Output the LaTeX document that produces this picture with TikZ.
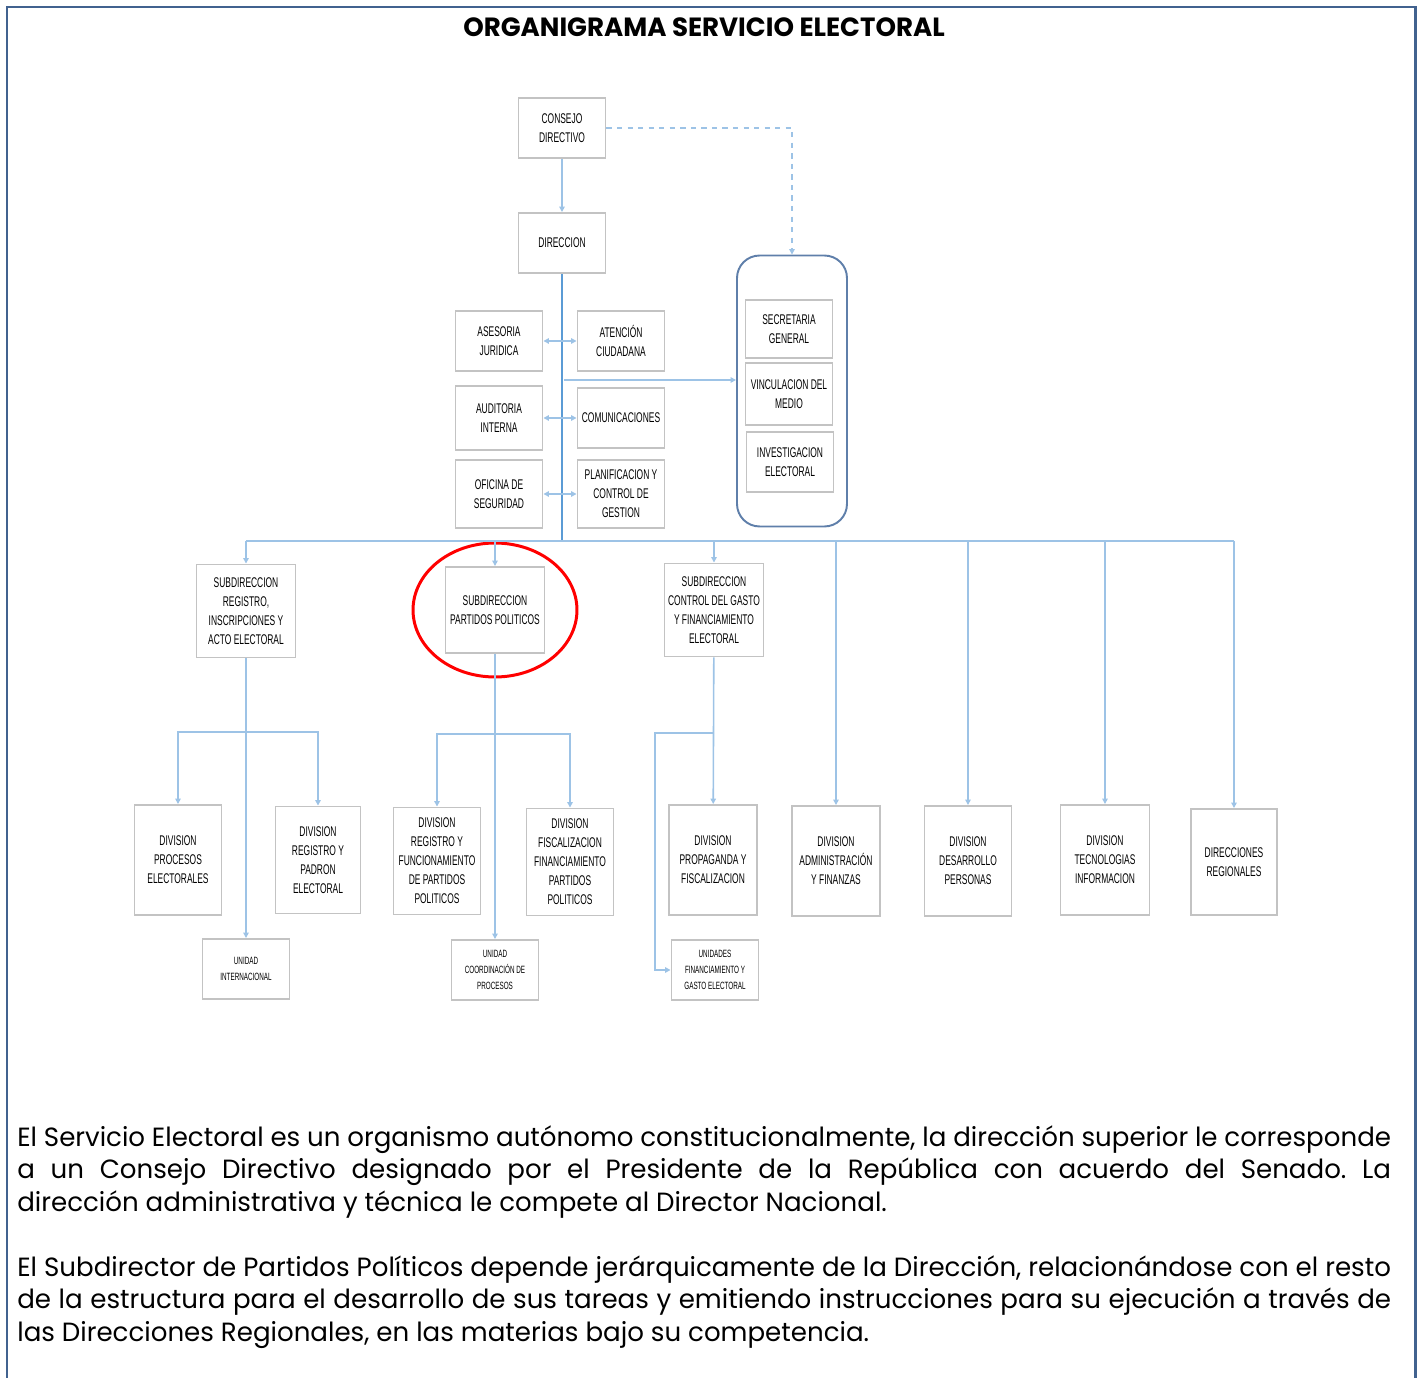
\documentclass[tikz,border=0pt]{standalone}
\usepackage{fontspec}
\setmainfont{Poppins}
\newfontfamily\boxfont[FakeStretch=0.6]{Liberation Sans}
\newfontfamily\bodyfont[FakeStretch=0.99]{Poppins}
\usetikzlibrary{arrows.meta}
\definecolor{framecol}{HTML}{41628F}
\definecolor{boxgray}{HTML}{C3C3C3}
\definecolor{linkblue}{HTML}{9DC3E6}
\definecolor{mainblue}{HTML}{5B9BD5}
\definecolor{grpblue}{HTML}{5F7FAA}
\frenchspacing
\tikzset{
  >={Triangle[length=1.1mm,width=1.1mm]},
  unit/.style={draw=boxgray,line width=1.1pt,fill=white,align=center,inner sep=1pt,
    font=\boxfont\fontsize{8}{10.8}\selectfont,minimum width=1.74cm,minimum height=1.2cm},
  division/.style={unit,minimum height=2.2cm},
  subdir/.style={unit,minimum width=1.98cm,minimum height=1.86cm},
  smallunit/.style={unit,font=\boxfont\fontsize{6}{9}\selectfont},
  link/.style={draw=linkblue,line width=0.9pt},
  mainlink/.style={draw=mainblue,line width=1.6pt},
  body/.style={text width=27.48cm,align=justify,inner sep=0pt,anchor=north west,
    font=\bodyfont\fontsize{15}{18.5}\selectfont}
}
\begin{document}
\begin{tikzpicture}[x=0.02cm,y=-0.02cm]
\useasboundingbox (0,0) rectangle (1421,1378);
\draw[framecol,line width=1.7pt] (7,1378) -- (7,7) -- (1415,7) -- (1415,1378);
\node[font=\bodyfont\bfseries\fontsize{15}{18}\selectfont] (title) at (704,27) {ORGANIGRAMA SERVICIO ELECTORAL};

\node[unit] (con) at (562,128) {CONSEJO\\DIRECTIVO};
\node[unit] (dir) at (562,243) {DIRECCION};

\node[draw=grpblue,line width=1.1pt,rounded corners=0.45cm,minimum width=2.2cm,minimum height=5.42cm] (grp) at (792,391) {};
\node[unit,minimum height=1.16cm] (sec) at (789,329) {SECRETARIA\\GENERAL};
\node[unit,minimum height=1.24cm] (vin) at (789,394) {VINCULACION DEL\\MEDIO};
\node[unit] (inv) at (790,462) {INVESTIGACION\\ELECTORAL};

\node[unit] (ase) at (499,341) {ASESORIA\\JURIDICA};
\node[unit] (ate) at (621,341) {ATENCIÓN\\CIUDADANA};
\node[unit,minimum height=1.28cm] (aud) at (499,418) {AUDITORIA\\INTERNA};
\node[unit] (com) at (621,418) {COMUNICACIONES};
\node[unit,minimum height=1.36cm] (ofi) at (499,494) {OFICINA DE\\SEGURIDAD};
\node[unit,minimum height=1.36cm] (pla) at (621,494) {PLANIFICACION Y\\CONTROL DE\\GESTION};

\node[subdir] (sreg) at (246,611) {SUBDIRECCION\\REGISTRO,\\INSCRIPCIONES Y\\ACTO ELECTORAL};
\node[subdir,minimum height=1.72cm] (spp) at (495,610) {SUBDIRECCION\\PARTIDOS POLITICOS};
\node[subdir] (scg) at (714,610) {SUBDIRECCION\\CONTROL DEL GASTO\\Y FINANCIAMIENTO\\ELECTORAL};
\draw[red,line width=1.7pt] (spp) ellipse [x radius=1.64cm,y radius=1.34cm];

\node[division] (dproc) at (178,860) {DIVISION\\PROCESOS\\ELECTORALES};
\node[division,minimum width=1.7cm,minimum height=2.14cm] (dpad) at (318,860) {DIVISION\\REGISTRO Y\\PADRON\\ELECTORAL};
\node[division,minimum height=2.14cm] (dfun) at (437,861) {DIVISION\\REGISTRO Y\\FUNCIONAMIENTO\\DE PARTIDOS\\POLITICOS};
\node[division,minimum height=2.14cm] (dfis) at (570,862) {DIVISION\\FISCALIZACION\\FINANCIAMIENTO\\PARTIDOS\\POLITICOS};
\node[division,minimum width=1.76cm] (dprop) at (713,860) {DIVISION\\PROPAGANDA Y\\FISCALIZACION};
\node[division,minimum width=1.76cm] (dadm) at (836,861) {DIVISION\\ADMINISTRACIÓN\\Y FINANZAS};
\node[division] (ddes) at (968,861) {DIVISION\\DESARROLLO\\PERSONAS};
\node[division,minimum width=1.78cm] (dtec) at (1105,860) {DIVISION\\TECNOLOGIAS\\INFORMACION};
\node[division,minimum width=1.72cm,minimum height=2.12cm] (dreg) at (1234,862) {DIRECCIONES\\REGIONALES};

\node[smallunit] (uint) at (246,969) {UNIDAD\\INTERNACIONAL};
\node[smallunit] (ucoo) at (495,970) {UNIDAD\\COORDINACIÓN DE\\PROCESOS};
\node[smallunit] (ufin) at (715,970) {UNIDADES\\FINANCIAMIENTO Y\\GASTO ELECTORAL};

\coordinate (busL) at (246,541);
\coordinate (busR) at (1234,541);
\coordinate (tap) at (564,380);
\coordinate (j1) at (246,732);
\coordinate (j2) at (495,734);
\coordinate (j3) at (714,733);
\coordinate (j4) at (655,733);

\draw[link,->] (con) -- (dir);
\draw[link,dashed,->] (con.east) -| (grp.north);
\draw[mainlink] (dir.south) -- (dir.south |- busL);
\draw[link] (busL) -- (busR);
\draw[link,->] (tap) -- (tap -| grp.west);
\draw[link,<->] (ase) -- (ate);
\draw[link,<->] (aud) -- (com);
\draw[link,<->] (ofi) -- (pla);
\foreach \n in {sreg,spp,scg,dadm,ddes,dtec}
  \draw[link,->] (\n.north |- busL) -- (\n.north);
\draw[link,line width=1.4pt,->] (dreg.north |- busL) -- (dreg.north);

\draw[link] (sreg) -- (j1);
\draw[link,->] (j1) -| (dproc);
\draw[link,->] (j1) -| (dpad);
\draw[link,->] (sreg) -- (uint);
\draw[link] (spp) -- (j2);
\draw[link,->] (j2) -| (dfun);
\draw[link,->] (j2) -| (dfis);
\draw[link,->] (spp) -- (ucoo);
\draw[link,->] (scg) -- (dprop);
\draw[link,line width=1.4pt,->] (j3) -- (j4) |- (ufin.west);

\node[body] (txtA) at (17,1125) {El Servicio Electoral es un organismo autónomo constitucionalmente, la dirección superior le corresponde\linebreak a un Consejo Directivo designado por el Presidente de la República con acuerdo del Senado. La\linebreak dirección administrativa y técnica le compete al Director Nacional.};
\node[body] (txtB) at (17,1255) {El Subdirector de Partidos Políticos depende jerárquicamente de la Dirección, relacionándose con el resto\linebreak de la estructura para el desarrollo de sus tareas y emitiendo instrucciones para su ejecución a través de\linebreak las Direcciones Regionales, en las materias bajo su competencia.};
\end{tikzpicture}
\end{document}
